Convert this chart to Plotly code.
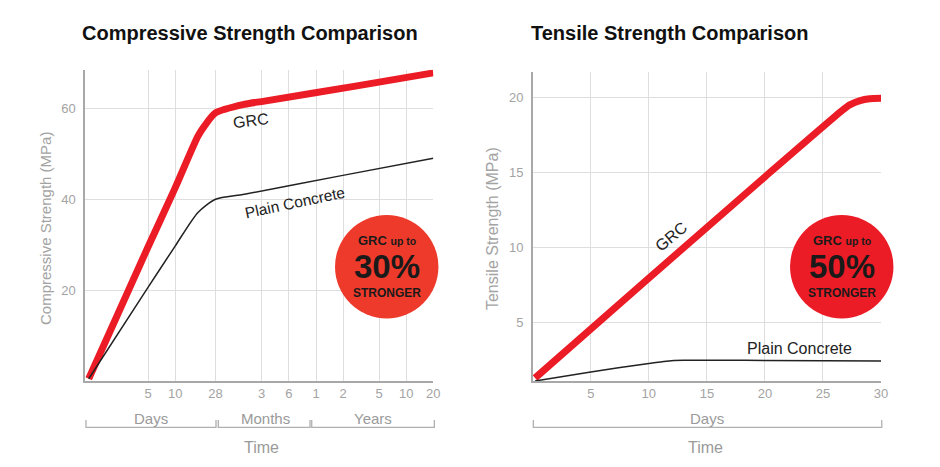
import plotly.graph_objects as go

W, H = 940, 467
XS = 0.9925  # measured horizontal shrink of the rendered page

# ---------------- data ----------------
# Compressive strength (x in days, log scale)
comp_days = [1.1, 5, 10, 17.9, 21.1, 28, 58.8, 98, 1000, 7305]
comp_grc = [0.5, 29.5, 42.5, 53.9, 56.1, 59.0, 60.9, 61.6, 64.9, 67.8]
comp_plain_days = [1.1, 5, 10, 17.9, 28, 58.8, 700, 7305]
comp_plain = [0.5, 20.6, 29.7, 37.1, 40.0, 41.1, 45.2, 49.0]
comp_tickvals = [5, 10, 28, 91, 182, 365, 730, 1826, 3652, 7305]
comp_ticktext = ["5", "10", "28", "3", "6", "1", "2", "5", "10", "20"]
comp_yticks = [20, 40, 60]

# Tensile strength (x in days, linear)
tens_days = [0.2, 10, 20, 26.7, 27.3, 28.2, 29.0, 30]
tens_grc = [1.3, 7.95, 14.7, 19.15, 19.49, 19.78, 19.9, 19.93]
tens_plain_days = [0.2, 5, 10, 11.5, 13, 20, 30]
tens_plain = [1.1, 1.7, 2.27, 2.42, 2.48, 2.47, 2.43]
tens_tickvals = [5, 10, 15, 20, 25, 30]
tens_yticks = [5, 10, 15, 20]

RED = "#EC1C26"
GRAY_TXT = "#a3a3a3"
GRID = "#dedede"
AXIS = "#a8a8a8"
FONT = "Liberation Sans, Arial, Helvetica, sans-serif"


def px(x):
    return x / (W * XS)


def py(y):
    return (H - y) / H


fig = go.Figure()
for xs, ys, xa, ya, col, wd in [
    (comp_days, comp_grc, "x", "y", RED, 7),
    (comp_plain_days, comp_plain, "x", "y", "#222222", 1.5),
    (tens_days, tens_grc, "x2", "y2", RED, 7),
    (tens_plain_days, tens_plain, "x2", "y2", "#222222", 1.5),
]:
    fig.add_trace(go.Scatter(x=xs, y=ys, mode="lines",
                             line=dict(color=col, width=wd, shape="spline", smoothing=0.7),
                             xaxis=xa, yaxis=ya, showlegend=False, hoverinfo="skip"))

bottom = 381
comp_ymax = 68.5
comp_top = bottom - comp_ymax * 4.544
tens_top = 71.7

axis_common = dict(showgrid=True, gridcolor=GRID, gridwidth=1, zeroline=False,
                   showline=True, linecolor=AXIS, linewidth=1.5,
                   tickfont=dict(family=FONT, size=13, color=GRAY_TXT), ticks="")

fig.update_layout(
    width=W, height=H, margin=dict(l=0, r=0, t=0, b=0),
    paper_bgcolor="white", plot_bgcolor="white",
    xaxis=dict(type="log", range=[0, 3.8636], domain=[px(85), px(433.3)],
               tickvals=comp_tickvals, ticktext=comp_ticktext, anchor="y",
               **axis_common),
    yaxis=dict(range=[0, comp_ymax], domain=[py(bottom), py(comp_top)],
               tickvals=comp_yticks, anchor="x", ticklabelstandoff=5,
               **axis_common),
    xaxis2=dict(range=[0, 30], domain=[px(532.7), px(881)],
                tickvals=tens_tickvals, anchor="y2", **axis_common),
    yaxis2=dict(range=[1.1, 21.7], domain=[py(bottom), py(tens_top)],
                tickvals=tens_yticks, anchor="x2", ticklabelstandoff=5,
                **axis_common),
)

ann = []


def text(x, y, s, size, color="#222222", angle=0, bold=False, family=FONT):
    ann.append(dict(x=px(x), y=py(y), xref="paper", yref="paper",
                    text=(f"<b>{s}</b>" if bold else s), showarrow=False,
                    xanchor="center", yanchor="middle", textangle=angle,
                    font=dict(family=family, size=size, color=color)))


# titles
text(250, 33, "Compressive Strength Comparison", 20, "#111111", bold=True)
text(669.5, 33, "Tensile Strength Comparison", 20, "#111111", bold=True)

# axis titles
text(45, 229, "Compressive Strength (MPa)", 15, GRAY_TXT, angle=-90)
text(492, 229, "Tensile Strength (MPa)", 16, GRAY_TXT, angle=-90)

# line labels
text(251, 120, "GRC", 16, "#222222", angle=-7)
text(295, 202, "Plain Concrete", 15.5, "#222222", angle=-12)
text(671, 236, "GRC", 16, "#222222", angle=-40)
text(799, 348, "Plain Concrete", 16, "#222222")

# time group labels
text(150.7, 418, "Days", 15, "#9a9a9a")
text(265, 418, "Months", 15, "#9a9a9a")
text(373.3, 418, "Years", 15, "#9a9a9a")
text(261.7, 447, "Time", 16, "#9a9a9a")
text(707.3, 418, "Days", 15, "#9a9a9a")
text(705, 447, "Time", 16, "#9a9a9a")

shapes = []


def bracket(x0, x1, yline=427.3, ytop=420):
    shapes.append(dict(type="path", xref="paper", yref="paper",
                       path=f"M {px(x0)},{py(ytop)} L {px(x0)},{py(yline)} L {px(x1)},{py(yline)} L {px(x1)},{py(ytop)}",
                       line=dict(color="#b0b0b0", width=1.3)))


bracket(86, 216)
bracket(218.3, 310)
bracket(311.7, 434.3)
bracket(533.3, 881.7)


def badge(cx, cy, r, color, pct):
    shapes.append(dict(type="circle", xref="paper", yref="paper",
                       x0=px(cx - r), x1=px(cx + r), y0=py(cy + r), y1=py(cy - r),
                       fillcolor=color, line=dict(width=0), layer="above"))
    ann.append(dict(x=px(cx), y=py(cy - 26), xref="paper", yref="paper",
                    text="<b>GRC</b> <b><span style='font-size:10.5px'>up to</span></b>",
                    showarrow=False, xanchor="center", yanchor="middle",
                    font=dict(family=FONT, size=13, color="#1a1a1a")))
    ann.append(dict(x=px(cx), y=py(cy), xref="paper", yref="paper",
                    text=f"<b>{pct}</b>", showarrow=False, xanchor="center",
                    yanchor="middle",
                    font=dict(family=FONT, size=33, color="#1a1a1a")))
    ann.append(dict(x=px(cx), y=py(cy + 26), xref="paper", yref="paper",
                    text="<b>STRONGER</b>", showarrow=False, xanchor="center",
                    yanchor="middle",
                    font=dict(family=FONT, size=12, color="#1a1a1a")))


badge(386.7, 266.7, 51.7, "#EE3A2B", "30%")
badge(841.7, 266.7, 51.7, "#EC1C26", "50%")

fig.update_layout(annotations=ann, shapes=shapes)
fig.write_html(
    "out.html",
    config={"displayModeBar": False},
    post_script=("document.documentElement.style.margin='0px';"
                 "document.documentElement.style.overflow='hidden';"
                 "document.body.style.margin='0px';document.body.style.padding='0px';"
                 "document.body.style.overflow='hidden';"),
)
